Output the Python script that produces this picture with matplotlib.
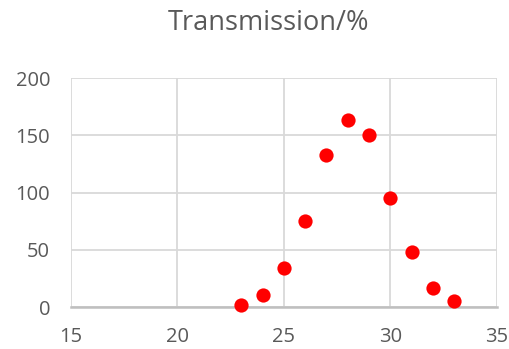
import matplotlib
matplotlib.use("Agg")
import matplotlib.pyplot as plt

# data
x_vals = [23, 24, 25, 26, 27, 28, 29, 30, 31, 32, 33]
y_vals = [2, 11, 34, 75, 133, 163, 150, 95, 48, 17, 5]
x_ticks = [15, 20, 25, 30, 35]
y_ticks = [0, 50, 100, 150, 200]

plt.rcParams['font.family'] = ['Open Sans', 'DejaVu Sans']
TEXT = '#595959'
GRID = '#d9d9d9'

fig = plt.figure(figsize=(5.09, 3.49), dpi=100)
ax = fig.add_axes([0.1395, 0.12, 0.8365, 0.6565])

ax.scatter(x_vals, y_vals, s=105, color='#ff0000', zorder=3, linewidths=0,
           clip_on=False)

ax.set_xlim(15, 35)
ax.set_ylim(0, 200)
ax.set_xticks(x_ticks)
ax.set_yticks(y_ticks)
ax.grid(True, color=GRID, linewidth=1.3)
ax.set_axisbelow(True)
for s in ['top', 'right', 'left']:
    ax.spines[s].set_visible(False)
ax.spines['bottom'].set_color('#bfbfbf')
ax.spines['bottom'].set_linewidth(1.8)
ax.tick_params(length=0, labelsize=14.5, colors=TEXT)
ax.tick_params(axis='y', pad=15)
ax.tick_params(axis='x', pad=14)

fig.text(0.527, 0.935, 'Transmission/%', ha='center', va='center',
         fontsize=19.5, color=TEXT)

fig.savefig('out.png', dpi=100)
